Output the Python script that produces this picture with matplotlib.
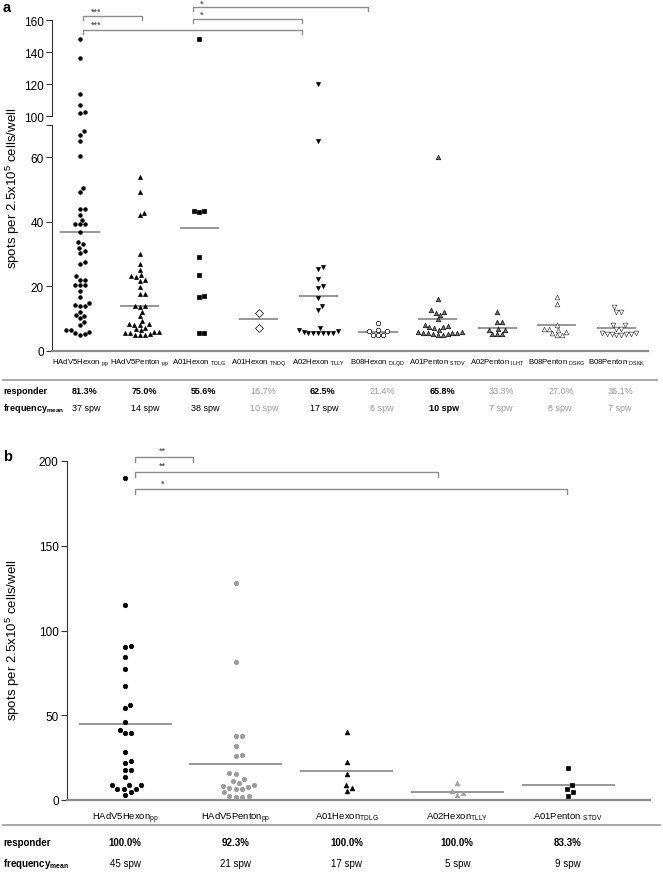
import numpy as np
import matplotlib
matplotlib.use("Agg")
import matplotlib.pyplot as plt
from matplotlib.lines import Line2D
from matplotlib import transforms

plt.rcParams['font.family'] = ['Liberation Sans', 'DejaVu Sans']
plt.rcParams['mathtext.fontset'] = 'custom'
plt.rcParams['mathtext.rm'] = 'Liberation Sans'
plt.rcParams['mathtext.bf'] = 'Liberation Sans:bold'
plt.rcParams['mathtext.default'] = 'regular'

# ---------------- panel a data ----------------
names_a = ["HAdV5Hexon", "HAdV5Penton", "A01Hexon", "A01Hexon", "A02Hexon",
           "B08Hexon", "A01Penton", "A02Penton", "B08Penton", "B08Penton"]
subs_a = ["pp", "pp", "TDLG", "TNDQ", "TLLY", "DLQD", "STDV", "ILHT", "DSKG", "DSKK"]

hexon_pp_a = [148, 136, 114, 107, 102.5, 102, 68, 67, 65, 60.5, 50.5, 49.2, 44, 44,
              42.2, 40.7, 39.3, 39.3, 39.3, 37, 33.8, 33, 32, 31, 30.5, 27.5, 27,
              23.2, 22.1, 22.1, 20.5, 20.5, 20.5, 18.7, 16.6, 15, 14.3, 14, 13.8,
              12.2, 11.2, 10.8, 10.1, 9.1, 8.1, 6.5, 6.0, 5.3, 5.1, 5.6, 6.5]
penton_pp_a = [54, 49.2, 42.7, 42.2, 30.1, 27, 25.2, 23.6, 23.2, 23.0, 22.1, 21.8,
               19.7, 17.7, 17.7, 14, 13.8, 13.5, 12.2, 10.9, 9.4, 8.4, 8.2, 8.0,
               8.3, 7.1, 6.0, 5.5, 5.0, 5.0, 5.2, 5.0, 5.5, 6.0, 6.5, 6.8]
tdlg_a = [148, 43.5, 43.0, 43.5, 29, 23.4, 17, 16.8, 5.5, 5.5]
tndq_a = [11.7, 7.1]
tlly_a = [120, 65, 26, 25.4, 22.3, 20.2, 19.4, 16.3, 13.9, 12.8, 5.5, 5.5, 5.5,
          5.8, 6.5, 7.0, 6.2, 5.5, 5.5, 5.5]
dlqd_a = [8.6, 6.6, 6.1, 6.1, 5.0, 5.0, 5.0]
stdv_a = [60, 16, 12.6, 12.2, 11.8, 11.2, 9.9, 8, 7.5, 7.5, 7, 7.8, 6.5, 6.0, 5.5,
          5.5, 5.5, 5.5, 5.2, 5.2, 6.0, 5.0, 5.0]
ilht_a = [12, 9.1, 9.1, 6.6, 5.4, 6.8, 5.3, 5.3, 6.6]
dskg_a = [16.8, 14.5, 8.1, 6.5, 6.7, 6.8, 5.0, 5.0, 6.0, 5.5]
dskk_a = [13.5, 12.2, 12.2, 7.9, 7.9, 6.8, 6.8, 5.5, 5.3, 5.0, 5.3, 5.0, 5.3, 5.5, 5.3]
values_a = [hexon_pp_a, penton_pp_a, tdlg_a, tndq_a, tlly_a, dlqd_a, stdv_a,
            ilht_a, dskg_a, dskk_a]

responder_a = ["81.3%", "75.0%", "55.6%", "16.7%", "62.5%", "21.4%", "65.8%",
               "33.3%", "27.0%", "36.1%"]
resp_sig_a = [True, True, True, False, True, False, True, False, False, False]
freq_a = [37, 14, 38, 10, 17, 6, 10, 7, 8, 7]
freq_bold_a = [False, False, False, False, False, False, True, False, False, False]

# ---------------- panel b data ----------------
names_b = ["HAdV5Hexon", "HAdV5Penton", "A01Hexon", "A02Hexon", "A01Penton "]
subs_b = ["pp", "pp", "TDLG", "TLLY", "STDV"]
hexon_pp_b = [190, 115, 91, 90, 84.5, 77.5, 67.2, 56.1, 54.1, 46.2, 41.4, 39.4, 39.4,
              28.6, 23.1, 22.1, 17.6, 17.6, 13.7, 9.0, 8.8, 8.8, 6.6, 6.6, 6.6, 4.5, 2.9]
penton_pp_b = [128, 81.4, 37.8, 37.8, 31.9, 25.7, 26.6, 15.7, 15.3, 11.0, 12.4, 8.8,
               7.8, 6.5, 6.5, 7.1, 8.4, 9.8, 4.5, 2.0, 2.0, 2.5, 2.5]
tdlg_b = [40, 22.2, 15.3, 9.0, 7.1, 5.1]
tlly_b = [9.8, 3.9, 2.8, 5.3]
stdv_b = [18.6, 9.0, 6.5, 4.9, 2.5]
values_b = [hexon_pp_b, penton_pp_b, tdlg_b, tlly_b, stdv_b]

responder_b = ["100.0%", "92.3%", "100.0%", "100.0%", "83.3%"]
freq_b = [45, 21, 17, 5, 9]

# marker styles (marker, face, edge, size)
styles_a = [("o", "black", "black", 2.6), ("^", "black", "black", 2.9),
            ("s", "black", "black", 2.6), ("D", "white", "black", 3.6),
            ("v", "black", "black", 2.9), ("o", "white", "black", 3.2),
            ("^", "#777777", "black", 3.2), ("^", "#777777", "black", 3.2),
            ("^", "white", "#444444", 3.4), ("v", "white", "#444444", 3.4)]
styles_b = [("o", "black", "black", 3.2), ("o", "#9a9a9a", "#9a9a9a", 3.2),
            ("^", "black", "black", 3.4), ("^", "#a0a0a0", "#a0a0a0", 3.4),
            ("s", "black", "black", 3.2)]

GRAY = "#8c8c8c"
W, H = 663, 879


def fx(px):
    return px / W


def fy(py):
    return 1 - py / H


def swarm_x(ax, xc, vals, gap):
    """beeswarm x positions (data units) around xc, gap in pixels"""
    vals = np.asarray(vals, float)
    pix = ax.transData.transform(np.column_stack([np.full(len(vals), xc), vals]))
    x0 = pix[0, 0]
    placed = []
    off = np.zeros(len(vals))
    for i in np.argsort(vals):
        y = pix[i, 1]
        near = [(px, py) for px, py in placed if abs(py - y) < gap]
        cands = [0.0]
        for px, py in near:
            dx = np.sqrt(gap ** 2 - (py - y) ** 2)
            cands += [px + dx, px - dx]
        cands.sort(key=abs)
        for c in cands:
            if all((c - px) ** 2 + (y - py) ** 2 >= gap ** 2 - 1e-6 for px, py in near):
                break
        placed.append((c, y))
        off[i] = c
    xy = np.column_stack([x0 + off, pix[:, 1]])
    return ax.transData.inverted().transform(xy)[:, 0]


def draw_group(ax, xc, vals, style, gap):
    if len(vals) == 0:
        return
    m, fc, ec, ms = style
    xs = swarm_x(ax, xc, vals, gap)
    ax.plot(xs, vals, ls="none", marker=m, ms=ms, mfc=fc, mec=ec, mew=0.5,
            clip_on=False, zorder=3)


def bracket(ax, x1, x2, y, h, label, lx, ly):
    ax.plot([x1, x1, x2, x2], [y - h, y, y, y - h], color=GRAY, lw=1.0,
            clip_on=False)
    ax.text(lx, ly, label, ha="center", va="center", fontsize=6.5, color="#333333")


fig = plt.figure(figsize=(W / 100, H / 100), dpi=100)

# ---------------- panel a ----------------
left_a, right_a = 52, 648
ax_lo = fig.add_axes([fx(left_a), fy(352), fx(right_a - left_a), (352 - 126) / H])
ax_hi = fig.add_axes([fx(left_a), fy(117), fx(right_a - left_a), (117 - 21) / H])
xlim_a = (-0.47, 9.53)
for ax in (ax_lo, ax_hi):
    ax.set_xlim(*xlim_a)
    ax.spines["top"].set_visible(False)
    ax.spines["right"].set_visible(False)
    ax.spines["left"].set_color("#333333")
    ax.spines["left"].set_linewidth(0.8)
    ax.tick_params(axis="y", length=4, width=0.8, color="#333333", labelsize=8.5, pad=2)
ax_lo.set_ylim(0, 70)
ax_lo.set_yticks([0, 20, 40, 60, 70])
ax_lo.set_yticklabels(["0", "20", "40", "60", ""])
ax_hi.set_ylim(100, 160)
ax_hi.set_yticks([100, 120, 140, 160])
ax_hi.spines["bottom"].set_visible(False)
ax_hi.set_xticks([])
ax_lo.spines["bottom"].set_color(GRAY)
ax_lo.spines["bottom"].set_linewidth(1.6)
ax_lo.set_xticks(range(len(names_a)))
ax_lo.set_xticklabels([f"{n} $_{{{s}}}$" for n, s in zip(names_a, subs_a)],
                      fontsize=5.6)
ax_lo.tick_params(axis="x", length=0, pad=4)

for i, vals in enumerate(values_a):
    lo = [v for v in vals if v <= 70]
    hi = [v for v in vals if v > 70]
    draw_group(ax_lo, i, lo, styles_a[i], 5.0)
    draw_group(ax_hi, i, hi, styles_a[i], 5.0)
    ax_lo.hlines(freq_a[i], i - 0.33, i + 0.33, color="#7a7a7a", lw=1.1, zorder=2)

bracket(ax_hi, 0.05, 1.04, 162.4, 2.4, "***", 0.27, 165.6)
bracket(ax_hi, 0.05, 3.73, 153.9, 2.4, "***", 0.27, 157.2)
bracket(ax_hi, 1.89, 3.73, 160.6, 2.4, "*", 2.04, 163.6)
bracket(ax_hi, 1.89, 4.83, 167.9, 2.4, "*", 2.04, 170.6)

fig.text(fx(13), fy(188), "spots per 2.5x10$^5$ cells/well", rotation=90,
         ha="center", va="center", fontsize=9.5)
fig.text(fx(3), fy(8), "a", fontsize=10.5, fontweight="bold", va="center")

# table a
fig.add_artist(Line2D([fx(3), fx(657)], [fy(381), fy(381)], color="#999999", lw=1.2))
tr_a = transforms.blended_transform_factory(ax_lo.transData, fig.transFigure)
fig.text(fx(3), fy(392), "responder", fontsize=6.5, fontweight="bold", va="center")
fig.text(fx(3), fy(409), "frequency$_{\\mathbf{mean}}$", fontsize=6.5,
         fontweight="bold", va="center")
for i in range(len(names_a)):
    c = "black" if resp_sig_a[i] else "#9a9a9a"
    fig.text(i - 0.14, fy(392), responder_a[i], transform=tr_a, fontsize=6.5,
             fontweight="bold" if resp_sig_a[i] else "normal", color=c, va="center")
    fig.text(i - 0.14, fy(409), f"{freq_a[i]} spw", transform=tr_a, fontsize=6.5,
             fontweight="bold" if freq_bold_a[i] else "normal", color=c, va="center")

# ---------------- panel b ----------------
ax_b = fig.add_axes([fx(67), fy(801), fx(650 - 67), (801 - 462) / H])
ax_b.set_xlim(-0.524, 4.74)
ax_b.set_ylim(0, 200)
ax_b.set_yticks([0, 50, 100, 150, 200])
ax_b.spines["top"].set_visible(False)
ax_b.spines["right"].set_visible(False)
ax_b.spines["left"].set_color("#333333")
ax_b.spines["left"].set_linewidth(0.8)
ax_b.spines["bottom"].set_color(GRAY)
ax_b.spines["bottom"].set_linewidth(1.6)
ax_b.tick_params(axis="y", length=4, width=0.8, color="#333333", labelsize=8.5, pad=2)
ax_b.set_xticks(range(len(names_b)))
ax_b.set_xticklabels([f"{n}$_{{{s}}}$" for n, s in zip(names_b, subs_b)], fontsize=6.8)
ax_b.tick_params(axis="x", length=0, pad=7)

for i, vals in enumerate(values_b):
    draw_group(ax_b, i, vals, styles_b[i], 6.4)
    ax_b.hlines(freq_b[i], i - 0.42, i + 0.42, color="#7a7a7a", lw=1.1, zorder=2)

bracket(ax_b, 0.09, 0.61, 202.5, 3.0, "**", 0.34, 206.5)
bracket(ax_b, 0.09, 2.83, 193.7, 3.0, "**", 0.34, 197.5)
bracket(ax_b, 0.09, 3.99, 183.5, 3.0, "*", 0.34, 187.0)

fig.text(fx(13), fy(640), "spots per 2.5x10$^5$ cells/well", rotation=90,
         ha="center", va="center", fontsize=9.5)
fig.text(fx(3), fy(457), "b", fontsize=10.5, fontweight="bold", va="center")

# table b
fig.add_artist(Line2D([fx(3), fx(660)], [fy(826), fy(826)], color="#999999", lw=1.2))
tr_b = transforms.blended_transform_factory(ax_b.transData, fig.transFigure)
fig.text(fx(3), fy(843), "responder", fontsize=7, fontweight="bold", va="center")
fig.text(fx(3), fy(864), "frequency$_{\\mathbf{mean}}$", fontsize=7,
         fontweight="bold", va="center")
for i in range(len(names_b)):
    fig.text(i, fy(843), responder_b[i], transform=tr_b, fontsize=7,
             fontweight="bold", ha="center", va="center")
    fig.text(i, fy(864), f"{freq_b[i]} spw", transform=tr_b, fontsize=7,
             ha="center", va="center")

fig.savefig("out.png", dpi=100)
